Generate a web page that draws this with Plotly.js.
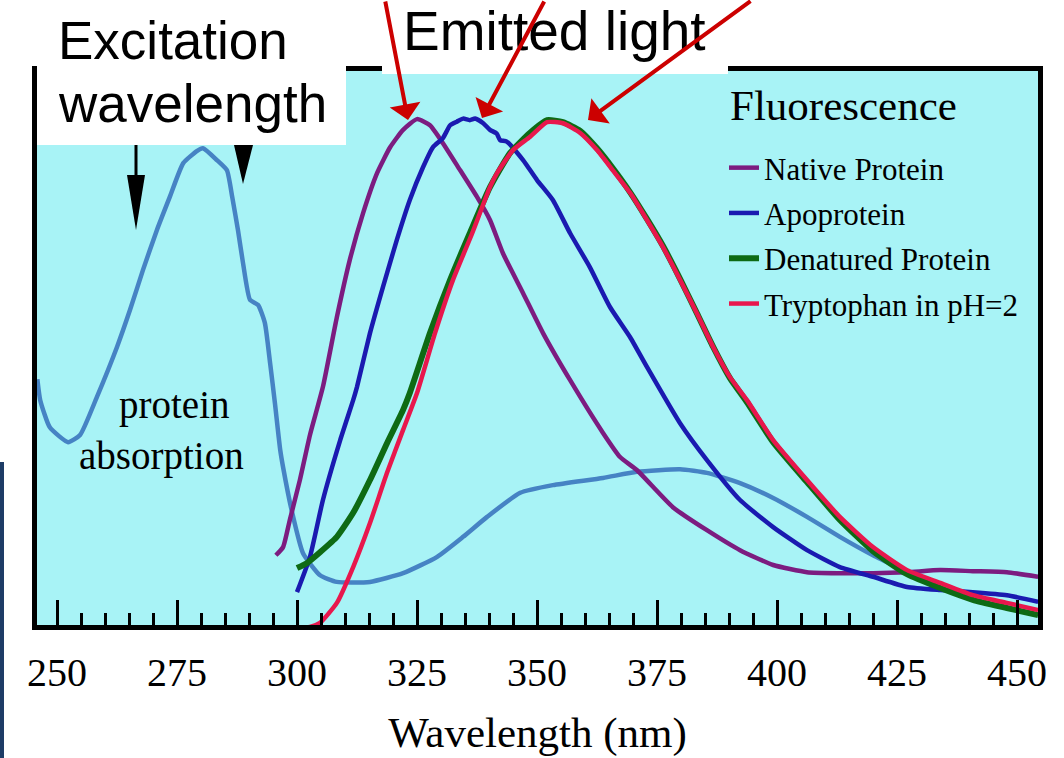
<!DOCTYPE html>
<html>
<head>
<meta charset="utf-8">
<script src="https://cdn.plot.ly/plotly-3.0.1.min.js"></script>
<style>html,body{margin:0;padding:0;background:#fff;}#chart{width:1064px;height:758px;}</style>
</head>
<body>
<div id="chart"></div>
<script>
// Wavelength (nm) and relative intensity (%)
const absX = [245.9, 246.5, 248.5, 252.3, 254.8, 258.3, 262.5, 265.2, 267.9, 270.8, 273.5, 276.3, 279.2, 280.4, 283.3, 285.4, 286.5, 287.7, 288.75, 290.2, 291.9, 293.3, 294.4, 295.4, 296.5, 297.1, 299.0, 301.25, 304.8, 308.3, 315.2, 322.1, 329.2, 334.6, 339.6, 346.5, 353.3, 363.75, 370.8, 379.8, 385.4, 392.3, 399.2, 406.25, 413.1, 420.0, 425.0];
const absY = [49.0, 44.9, 39.6, 36.7, 38.1, 45.5, 55.3, 62.5, 70.3, 78.1, 84.6, 91.2, 93.6, 94.1, 91.8, 89.8, 84.6, 78.1, 71.7, 64.5, 63.5, 60.0, 52.1, 44.3, 35.2, 31.8, 22.9, 15.0, 10.7, 9.4, 9.4, 11.1, 14.3, 18.2, 22.1, 26.8, 28.3, 29.7, 30.9, 31.4, 30.7, 28.7, 25.8, 22.1, 18.2, 14.6, 12.3];

const natX = [295.6, 297.1, 298.5, 300.6, 302.7, 305.4, 308.3, 311.0, 313.75, 316.7, 319.4, 322.1, 325.0, 327.7, 330.4, 334.0, 337.5, 340.2, 342.9, 347.1, 351.25, 356.9, 363.75, 367.3, 370.8, 378.3, 385.4, 392.3, 399.2, 406.25, 413.1, 420.0, 427.1, 434.0, 440.8, 447.9, 454.4];
const natY = [14.6, 16.2, 21.5, 29.3, 38.1, 47.5, 61.1, 72.3, 81.4, 89.3, 94.3, 97.7, 99.8, 98.6, 95.1, 89.8, 84.6, 80.1, 73.6, 65.8, 58.0, 48.8, 38.5, 33.8, 31.25, 24.0, 19.5, 15.6, 12.7, 11.3, 11.1, 11.1, 11.3, 11.7, 11.5, 11.3, 10.4];

const apoX = [300.0, 302.7, 305.4, 309.0, 311.7, 312.5, 315.2, 317.9, 320.8, 323.5, 326.25, 328.3, 330.4, 331.9, 333.3, 334.6, 336.0, 337.1, 338.8, 340.2, 341.6, 342.3, 343.7, 347.1, 350.0, 353.3, 356.9, 361.0, 365.2, 369.4, 372.9, 379.8, 385.4, 392.3, 399.2, 406.25, 413.1, 420.0, 427.1, 434.0, 440.8, 447.9, 454.4];
const apoY = [7.4, 14.3, 25.4, 37.1, 44.9, 47.5, 58.0, 67.0, 76.2, 84.0, 90.4, 94.3, 96.1, 98.6, 99.3, 99.9, 99.6, 99.9, 99.0, 97.7, 97.0, 95.7, 95.4, 91.8, 87.9, 84.0, 77.5, 70.9, 63.1, 57.2, 51.4, 40.4, 33.2, 25.4, 20.1, 15.6, 12.3, 10.4, 8.4, 7.8, 7.4, 6.8, 5.5];

const denX = [300.0, 302.1, 304.8, 308.3, 311.7, 315.2, 318.75, 322.1, 323.5, 327.7, 331.9, 336.0, 340.2, 344.4, 348.5, 352.1, 355.4, 359.0, 362.5, 365.8, 369.4, 372.9, 376.25, 379.8, 383.3, 386.7, 390.2, 393.75, 399.2, 406.25, 413.1, 420.0, 427.1, 434.0, 440.8, 447.9, 454.4];
const denY = [12.1, 13.1, 15.2, 18.2, 22.9, 29.3, 36.5, 43.0, 46.3, 58.0, 68.4, 77.5, 86.5, 93.2, 97.1, 99.6, 99.2, 97.5, 94.1, 90.2, 85.5, 80.3, 75.0, 68.6, 61.9, 55.3, 49.2, 44.5, 36.7, 28.9, 21.5, 15.4, 10.9, 8.2, 5.9, 4.3, 2.9];

const trpX = [300.6, 302.7, 304.8, 308.3, 311.7, 315.2, 318.75, 322.1, 325.0, 328.75, 332.5, 336.5, 340.2, 341.7, 345.0, 348.5, 352.1, 355.4, 359.0, 362.5, 365.8, 369.4, 372.9, 376.25, 379.8, 383.3, 386.7, 390.2, 393.75, 399.2, 406.25, 413.1, 420.0, 427.1, 434.0, 440.8, 447.9, 454.4];
const trpY = [0.4, 0.6, 1.4, 5.3, 12.3, 20.9, 30.7, 39.1, 46.3, 58.0, 68.4, 77.5, 86.5, 89.3, 93.75, 96.3, 99.2, 99.0, 97.1, 93.75, 89.8, 85.4, 80.1, 74.8, 68.4, 61.9, 55.3, 49.4, 44.9, 37.1, 29.3, 22.1, 16.2, 11.7, 9.2, 6.8, 5.3, 3.9];

const seriesNames = ['Native Protein', 'Apoprotein', 'Denatured Protein', 'Tryptophan in pH=2'];
const legendHeading = 'Fluorescence';
const tickVals = [250, 275, 300, 325, 350, 375, 400, 425, 450];

// pixel -> paper helpers for decorations
const L = 37, T = 71, W = 1001, H = 554;
const PX = x => (x - L) / W;
const PY = y => (T + H - y) / H;

const serif = 'Liberation Serif, Times New Roman, serif';
const sans = 'Liberation Sans, Arial, sans-serif';

function tr(x, y, name, color, width, legend, group) {
  return {x: x, y: y, name: name, type: 'scatter', mode: 'lines',
    line: {color: color, width: width, shape: 'spline', smoothing: 0.5},
    showlegend: legend, legendgroup: group, hoverinfo: 'skip'};
}

const data = [
  tr(absX, absY, 'protein absorption', '#4683c4', 4.5, false, 'a'),
  tr(natX, natY, seriesNames[0], '#7c1c80', 4.5, true, 'n'),
  tr(apoX, apoY, seriesNames[1], '#1a1ab0', 4.5, true, 'p'),
  tr(denX, denY, seriesNames[2], '#0e6a14', 6, true, 'd'),
  tr(trpX, trpY, seriesNames[3], '#e8174d', 4.5, true, 't')
];

function redArrow(tx, ty, sx, sy) {
  return {x: PX(tx), y: PY(ty), xref: 'paper', yref: 'paper', text: '', showarrow: true,
    ax: sx - tx, ay: sy - ty, arrowhead: 1, arrowsize: 1.3, arrowwidth: 4, arrowcolor: '#cc0000', standoff: 0, startstandoff: 0};
}

const layout = {
  width: 1064, height: 758,
  margin: {l: L, r: 1064 - L - W, t: T, b: 758 - T - H, pad: 0},
  paper_bgcolor: '#ffffff',
  plot_bgcolor: '#a8f3f6',
  xaxis: {
    range: [245.83, 454.375], tickvals: tickVals, ticktext: tickVals.map(String),
    ticks: 'inside', ticklen: 25, tickwidth: 3, tickcolor: '#000',
    minor: {dtick: 5, tick0: 250, ticks: 'inside', ticklen: 12, tickwidth: 3, tickcolor: '#000', showgrid: false},
    showline: true, linewidth: 5, linecolor: '#000', mirror: true,
    showgrid: false, zeroline: false,
    tickfont: {family: serif, size: 40, color: '#000'},
    ticklabelstandoff: 8,
    title: {text: 'Wavelength (nm)', font: {family: serif, size: 43, color: '#000'}, standoff: 24}
  },
  yaxis: {
    range: [0.98, 109.2], showticklabels: false, ticks: '',
    showline: true, linewidth: 5, linecolor: '#000', mirror: true,
    showgrid: false, zeroline: false
  },
  legend: {
    x: PX(724), y: PY(141), xanchor: 'left', yanchor: 'top',
    bgcolor: 'rgba(0,0,0,0)', borderwidth: 0,
    font: {family: serif, size: 31, color: '#000'},
    tracegroupgap: 2, traceorder: 'grouped'
  },
  shapes: [
    {type: 'rect', xref: 'paper', yref: 'paper', x0: PX(37), x1: PX(346), y0: PY(145), y1: PY(55), fillcolor: '#fff', line: {width: 0}, layer: 'above'},
    {type: 'rect', xref: 'paper', yref: 'paper', x0: PX(382), x1: PX(728), y0: PY(74), y1: PY(55), fillcolor: '#fff', line: {width: 0}, layer: 'above'},
    {type: 'line', xref: 'paper', yref: 'paper', x0: PX(136), x1: PX(136), y0: PY(145), y1: PY(180), line: {color: '#000', width: 3}, layer: 'above'},
    {type: 'path', xref: 'paper', yref: 'paper', path: `M ${PX(127)},${PY(175)} L ${PX(145)},${PY(175)} L ${PX(136)},${PY(230)} Z`, fillcolor: '#000', line: {width: 0}, layer: 'above'},
    {type: 'path', xref: 'paper', yref: 'paper', path: `M ${PX(234)},${PY(145)} L ${PX(253)},${PY(145)} L ${PX(243)},${PY(184)} Z`, fillcolor: '#000', line: {width: 0}, layer: 'above'},
    {type: 'rect', xref: 'paper', yref: 'paper', x0: PX(0), x1: PX(4), y0: PY(758), y1: PY(462), fillcolor: '#1e3c66', line: {width: 0}, layer: 'above'}
  ],
  annotations: [
    {x: PX(56), y: PY(41), xref: 'paper', yref: 'paper', xanchor: 'left', yanchor: 'middle', showarrow: false, text: 'Excitation', font: {family: sans, size: 53, color: '#000'}},
    {x: PX(56), y: PY(104), xref: 'paper', yref: 'paper', xanchor: 'left', yanchor: 'middle', showarrow: false, text: 'wavelength', font: {family: sans, size: 53, color: '#000'}},
    {x: PX(401), y: PY(31), xref: 'paper', yref: 'paper', xanchor: 'left', yanchor: 'middle', showarrow: false, text: 'Emitted light', font: {family: sans, size: 55, color: '#000'}},
    {x: PX(728), y: PY(105), xref: 'paper', yref: 'paper', xanchor: 'left', yanchor: 'middle', showarrow: false, text: legendHeading, font: {family: serif, size: 43, color: '#000'}},
    {x: PX(174), y: PY(405), xref: 'paper', yref: 'paper', xanchor: 'center', yanchor: 'middle', showarrow: false, text: 'protein', font: {family: serif, size: 39, color: '#000'}},
    {x: PX(161), y: PY(456), xref: 'paper', yref: 'paper', xanchor: 'center', yanchor: 'middle', showarrow: false, text: 'absorption', font: {family: serif, size: 39, color: '#000'}},
    redArrow(408, 120, 385, -4),
    redArrow(482, 118, 545, -4),
    redArrow(588, 120, 752, -4)
  ]
};

Plotly.newPlot('chart', data, layout, {displayModeBar: false, staticPlot: true});
</script>
</body>
</html>
